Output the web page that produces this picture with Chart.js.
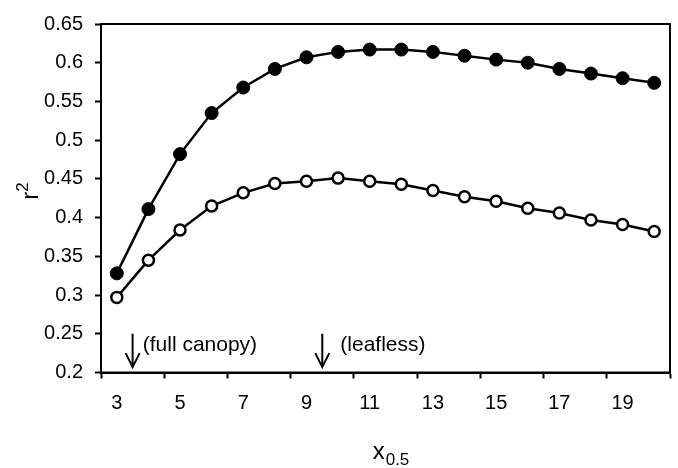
<!DOCTYPE html>
<html><head><meta charset="utf-8">
<script src="https://cdn.jsdelivr.net/npm/chart.js@4/dist/chart.umd.min.js"></script>
<style>html,body{margin:0;padding:0;background:#fff}canvas{display:block}</style>
</head><body>
<canvas id="c" width="678" height="468"></canvas>
<script>
// ---- data ----
const categories = ['3','4','5','6','7','8','9','10','11','12','13','14','15','16','17','18','19','20'];
const filledSeries = [0.328,0.411,0.482,0.535,0.568,0.592,0.607,0.614,0.617,0.617,0.614,0.609,0.604,0.600,0.592,0.586,0.580,0.574];
const openSeries   = [0.297,0.345,0.384,0.415,0.432,0.444,0.447,0.451,0.447,0.443,0.435,0.427,0.421,0.412,0.406,0.397,0.391,0.382];
const yTicks = [0.2,0.25,0.3,0.35,0.4,0.45,0.5,0.55,0.6,0.65];
const arrowX = [3.5, 9.5];
const arrowTop = 0.25, arrowTip = 0.207;
const noteText = ['(full canopy)', '(leafless)'];
const noteX = [3.82, 10.07];
const noteY = 0.235;
const xTitleMain = 'x', xTitleSub = '0.5';
const yTitleMain = 'r', yTitleSup = '2';

const FONT = '"Liberation Sans", Arial, sans-serif';

const decor = {
  id: 'decor',
  afterDatasetsDraw(chart) {
    const ctx = chart.ctx, a = chart.chartArea;
    const xs = chart.scales.x, ys = chart.scales.y;
    const first = Number(categories[0]);
    ctx.save();
    // plot box
    ctx.strokeStyle = '#000'; ctx.lineWidth = 2;
    ctx.strokeRect(a.left, a.top, a.right - a.left, a.bottom - a.top);
    // arrows
    ctx.lineWidth = 2;
    arrowX.forEach(v => {
      const px = xs.getPixelForValue(v - first);
      const y0 = ys.getPixelForValue(arrowTop), y1 = ys.getPixelForValue(arrowTip);
      ctx.beginPath();
      ctx.moveTo(px, y0); ctx.lineTo(px, y1);
      ctx.moveTo(px - 7, y1 - 14); ctx.lineTo(px, y1); ctx.lineTo(px + 7, y1 - 14);
      ctx.stroke();
    });
    // notes
    ctx.fillStyle = '#000';
    ctx.font = '21px ' + FONT;
    ctx.textAlign = 'left'; ctx.textBaseline = 'middle';
    noteText.forEach((t, i) => {
      ctx.fillText(t, xs.getPixelForValue(noteX[i] - first), ys.getPixelForValue(noteY));
    });
    // x title with subscript
    ctx.textBaseline = 'alphabetic';
    ctx.font = '24px ' + FONT;
    const wMain = ctx.measureText(xTitleMain).width;
    ctx.font = '17px ' + FONT;
    const wSub = ctx.measureText(xTitleSub).width;
    const cx = (a.left + a.right) / 2 + 5;
    let sx = cx - (wMain + wSub) / 2;
    ctx.font = '24px ' + FONT;
    ctx.fillText(xTitleMain, sx, 459);
    ctx.font = '17px ' + FONT;
    ctx.fillText(xTitleSub, sx + wMain + 1, 465);
    // y title with superscript (rotated)
    ctx.save();
    ctx.translate(38, 191);
    ctx.rotate(-Math.PI / 2);
    ctx.font = '24px ' + FONT;
    const rw = ctx.measureText(yTitleMain).width;
    ctx.font = '17px ' + FONT;
    const sw = ctx.measureText(yTitleSup).width;
    const start = -(rw + sw) / 2;
    ctx.font = '24px ' + FONT;
    ctx.fillText(yTitleMain, start, 0);
    ctx.font = '17px ' + FONT;
    ctx.fillText(yTitleSup, start + rw, -10);
    ctx.restore();
    ctx.restore();
  }
};

new Chart(document.getElementById('c'), {
  type: 'line',
  data: {
    labels: categories,
    datasets: [
      {
        data: filledSeries,
        borderColor: '#000', borderWidth: 2.5,
        pointStyle: 'circle', pointRadius: 6.5, pointBorderWidth: 1,
        pointBackgroundColor: '#000', pointBorderColor: '#000',
        tension: 0, fill: false
      },
      {
        data: openSeries,
        borderColor: '#000', borderWidth: 2.5,
        pointStyle: 'circle', pointRadius: 5.5, pointBorderWidth: 2.5,
        pointBackgroundColor: '#fff', pointBorderColor: '#000',
        tension: 0, fill: false
      }
    ]
  },
  options: {
    responsive: false,
    animation: false,
    devicePixelRatio: 1,
    layout: { padding: { left: 0, right: 4, top: 16, bottom: 0 } },
    plugins: { legend: { display: false }, tooltip: { enabled: false } },
    scales: {
      x: {
        type: 'category',
        offset: true,
        grid: {
          offset: true, drawOnChartArea: false, tickLength: 6, tickWidth: 2,
          tickColor: ctx => (ctx.index === undefined || ctx.index % 2 === 0) ? '#000' : 'rgba(0,0,0,0)'
        },
        border: { color: '#000', width: 2 },
        ticks: {
          autoSkip: false, maxRotation: 0, minRotation: 0, padding: 13,
          color: '#000', font: { family: FONT, size: 20 },
          callback: (v, i) => i % 2 === 0 ? categories[i] : ''
        },
        afterFit: s => { s.height = 95.5; }
      },
      y: {
        type: 'linear', min: 0.2, max: 0.65,
        afterBuildTicks: s => { s.ticks = yTicks.map(v => ({ value: v })); },
        grid: { drawOnChartArea: false, tickLength: 6, tickWidth: 2, tickColor: '#000' },
        border: { color: '#000', width: 2 },
        ticks: {
          padding: 12, color: '#000', font: { family: FONT, size: 20 },
          callback: v => String(Math.round(v * 100) / 100)
        },
        afterFit: s => { s.width = 101; }
      }
    }
  },
  plugins: [decor]
});
</script>
</body></html>
